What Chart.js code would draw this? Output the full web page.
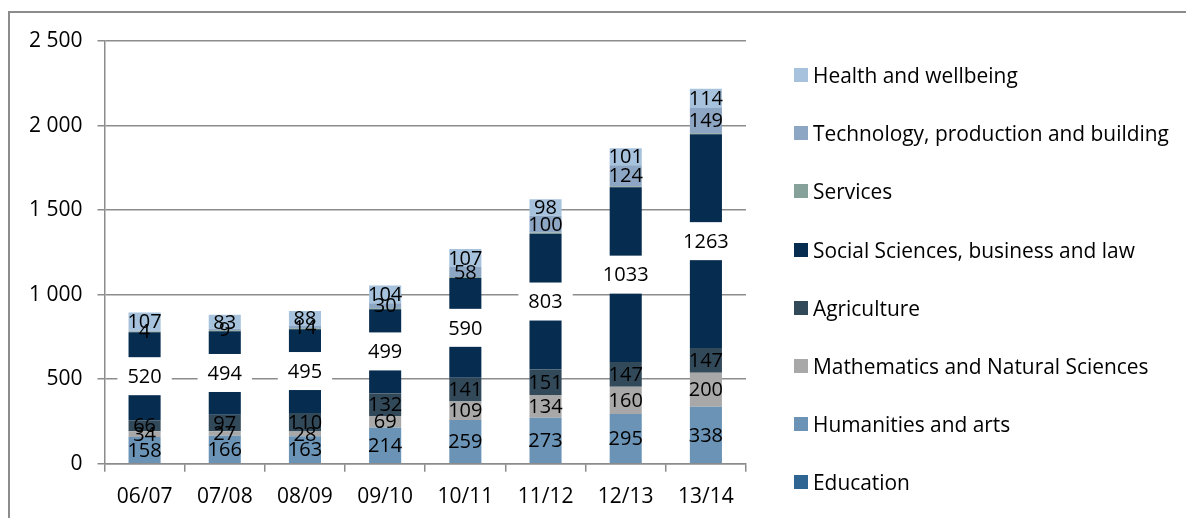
<!DOCTYPE html>
<html>
<head>
<meta charset="utf-8">
<script src="https://cdn.jsdelivr.net/npm/chart.js@4"></script>
<style>
  html, body { margin: 0; padding: 0; background: #fff; overflow: hidden; }
  #wrap { position: relative; width: 1186px; height: 518px; overflow: hidden; }
  #frame { position: absolute; left: 8px; top: 11px; right: -4px; bottom: -4px;
           border-top: 2px solid #8c8c8c; border-left: 2px solid #8c8c8c; pointer-events: none; }
  #legend { position: absolute; left: 794px; top: 46px; margin: 0; padding: 0; list-style: none;
            font: 20.9px 'Open Sans', sans-serif; color: #000; }
  #legend li { height: 58.2px; display: flex; align-items: center; white-space: nowrap; }
  #legend span { display: inline-block; width: 14px; height: 14px; margin-right: 5px; }
</style>
</head>
<body>
<div id="wrap">
  <canvas id="chart" width="1186" height="523"></canvas>
  <ul id="legend"></ul>
  <div id="frame"></div>
</div>
<script>
// school years
const years = ['06/07', '07/08', '08/09', '09/10', '10/11', '11/12', '12/13', '13/14'];

// series, bottom of the stack first
const education = [0, 0, 0, 0, 0, 0, 0, 0];
const humanities = [158, 166, 163, 214, 259, 273, 295, 338];
const mathematics = [34, 27, 28, 69, 109, 134, 160, 200];
const agriculture = [66, 97, 110, 132, 141, 151, 147, 147];
const socialSciences = [520, 494, 495, 499, 590, 803, 1033, 1263];
const services = [5, 5, 5, 6, 6, 6, 6, 7];
const technology = [4, 9, 14, 30, 58, 100, 124, 149];
const health = [107, 83, 88, 104, 107, 98, 101, 114];

const yTicks = [0, 500, 1000, 1500, 2000, 2500];

const FONT = "'Open Sans', sans-serif";
const GREY = '#8c8c8c';

function series(label, data, color, showLabels, labelBox) {
  return {
    label: label,
    data: data,
    backgroundColor: color,
    borderWidth: 0,
    barPercentage: 0.4,
    categoryPercentage: 1,
    showLabels: showLabels,
    labelBox: labelBox
  };
}

// centred value labels inside each segment
const segmentLabels = {
  id: 'segmentLabels',
  afterDatasetsDraw(chart) {
    const ctx = chart.ctx;
    ctx.save();
    ctx.font = '20px ' + FONT;
    ctx.textAlign = 'center';
    ctx.textBaseline = 'middle';
    chart.data.datasets.forEach((ds, i) => {
      if (!ds.showLabels) return;
      const meta = chart.getDatasetMeta(i);
      meta.data.forEach((bar, j) => {
        const v = ds.data[j];
        if (!v) return;
        const x = bar.x;
        const y = (bar.y + bar.base) / 2;
        const txt = String(v);
        if (ds.labelBox) {
          const w = ctx.measureText(txt).width + 20;
          ctx.fillStyle = '#fff';
          ctx.fillRect(x - w / 2, y - 19, w, 38);
        }
        ctx.fillStyle = '#000';
        ctx.fillText(txt, x, y + 1);
      });
    });
    ctx.restore();
  }
};

const chart = new Chart(document.getElementById('chart'), {
  type: 'bar',
  data: {
    labels: years,
    datasets: [
      series('Education', education, '#2f6592', false, false),
      series('Humanities and arts', humanities, '#6a93b6', true, false),
      series('Mathematics and Natural Sciences', mathematics, '#a8a8a8', true, false),
      series('Agriculture', agriculture, '#32495a', true, false),
      series('Social Sciences, business and law', socialSciences, '#062c4f', true, true),
      series('Services', services, '#86a09a', false, false),
      series('Technology, production and building', technology, '#8da6c3', true, false),
      series('Health and wellbeing', health, '#a6c2dc', true, false)
    ]
  },
  options: {
    responsive: false,
    animation: false,
    layout: { padding: { left: 14, top: 41, right: 440, bottom: 0 } },
    plugins: {
      tooltip: { enabled: false },
      legend: { display: false }
    },
    scales: {
      x: {
        stacked: true,
        grid: { drawOnChartArea: false, offset: true, tickLength: 8, color: GREY, lineWidth: 1.5 },
        border: { color: GREY, width: 1.5 },
        ticks: { color: '#000', padding: 13, font: { family: FONT, size: 21 } }
      },
      y: {
        stacked: true,
        min: 0,
        max: 2500,
        afterBuildTicks(axis) { axis.ticks = yTicks.map(v => ({ value: v })); },
        grid: { color: GREY, lineWidth: 1.5, tickLength: 7 },
        border: { color: GREY, width: 1.5 },
        ticks: {
          color: '#000',
          padding: 15,
          font: { family: FONT, size: 21 },
          callback: v => String(v).replace(/\B(?=(\d{3})+(?!\d))/g, ' ')
        }
      }
    }
  },
  plugins: [segmentLabels]
});

// legend, top of the stack first
const legend = document.getElementById('legend');
chart.data.datasets.slice().reverse().forEach(ds => {
  const li = document.createElement('li');
  const box = document.createElement('span');
  box.style.background = ds.backgroundColor;
  li.appendChild(box);
  li.appendChild(document.createTextNode(ds.label));
  legend.appendChild(li);
});
</script>
</body>
</html>
